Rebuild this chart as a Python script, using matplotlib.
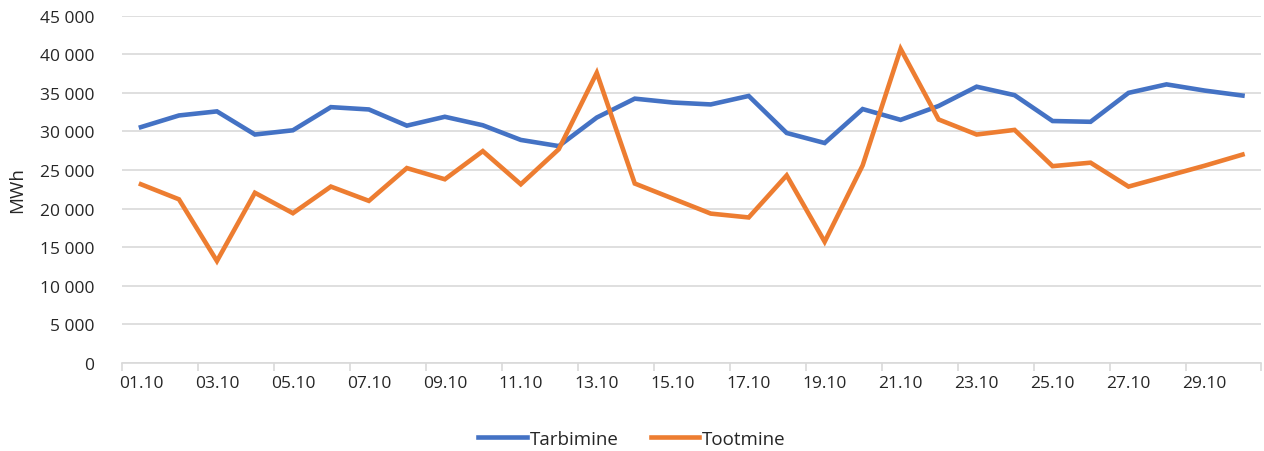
import numpy as np
import matplotlib.pyplot as plt
from matplotlib.ticker import FuncFormatter, FixedLocator

plt.rcParams['font.family'] = ['Open Sans', 'DejaVu Sans']

days = ['01.10', '02.10', '03.10', '04.10', '05.10', '06.10', '07.10', '08.10',
        '09.10', '10.10', '11.10', '12.10', '13.10', '14.10', '15.10', '16.10',
        '17.10', '18.10', '19.10', '20.10', '21.10', '22.10', '23.10', '24.10',
        '25.10', '26.10', '27.10', '28.10', '29.10', '30.10']

# MWh
tarbimine = [30560, 32070, 32600, 29600, 30150, 33150, 32850, 30750,
             31900, 30800, 28900, 28100, 31800, 34250, 33750, 33500,
             34600, 29800, 28500, 32900, 31500, 33300, 35800, 34700,
             31350, 31250, 35000, 36100, 35300, 34650]

tootmine = [23150, 21200, 13200, 22050, 19400, 22850, 21000, 25250,
            23800, 27450, 23150, 27700, 37600, 23250, 21300, 19350,
            18850, 24300, 15700, 25600, 40700, 31550, 29600, 30200,
            25500, 25950, 22850, 24200, 25550, 27000]

blue = '#4472C4'
orange = '#ED7D31'
grid_col = '#D9D9D9'

x = np.arange(len(days))

fig = plt.figure(figsize=(12.64, 4.52), dpi=100)
ax = fig.add_axes([0.0965, 0.195, 0.9015, 0.768])

ax.plot(x, tarbimine, color=blue, lw=3.3, label='Tarbimine', solid_joinstyle='miter', zorder=3)
ax.plot(x, tootmine, color=orange, lw=3.3, label='Tootmine', solid_joinstyle='miter', zorder=3)

ax.set_xlim(-0.5, len(days) - 0.5)
ax.set_ylim(0, 45000)
ax.set_yticks(np.arange(0, 45001, 5000))
ax.yaxis.set_major_formatter(FuncFormatter(lambda v, p: f'{v:,.0f}'.replace(',', ' ')))
ax.grid(axis='y', color=grid_col, lw=1.2, zorder=0)

# tick marks on category boundaries, labels on every second day
ax.xaxis.set_major_locator(FixedLocator(np.arange(-0.5, len(days), 2)))
ax.xaxis.set_minor_locator(FixedLocator(x[::2]))
ax.set_xticklabels([])
ax.set_xticklabels(days[::2], minor=True)
ax.tick_params(axis='x', which='major', length=6, width=1.2, color=grid_col)
ax.tick_params(axis='x', which='minor', length=0, pad=9, labelsize=12.5, labelcolor='#262626')
ax.tick_params(axis='y', length=0, pad=20, labelsize=12.5, labelcolor='#262626')

for s in ['top', 'right', 'left']:
    ax.spines[s].set_visible(False)
ax.spines['bottom'].set_color(grid_col)
ax.spines['bottom'].set_linewidth(1.2)

ax.set_ylabel('MWh', fontsize=13.5, color='#262626')
ax.yaxis.set_label_coords(-0.084, 0.5)

fig.legend(loc='lower center', bbox_to_anchor=(0.5, -0.03), ncol=2, frameon=False,
           fontsize=13.5, handlelength=2.6, handletextpad=0.15, columnspacing=1.7,
           labelcolor='#262626')

fig.savefig('out.png', dpi=100)
